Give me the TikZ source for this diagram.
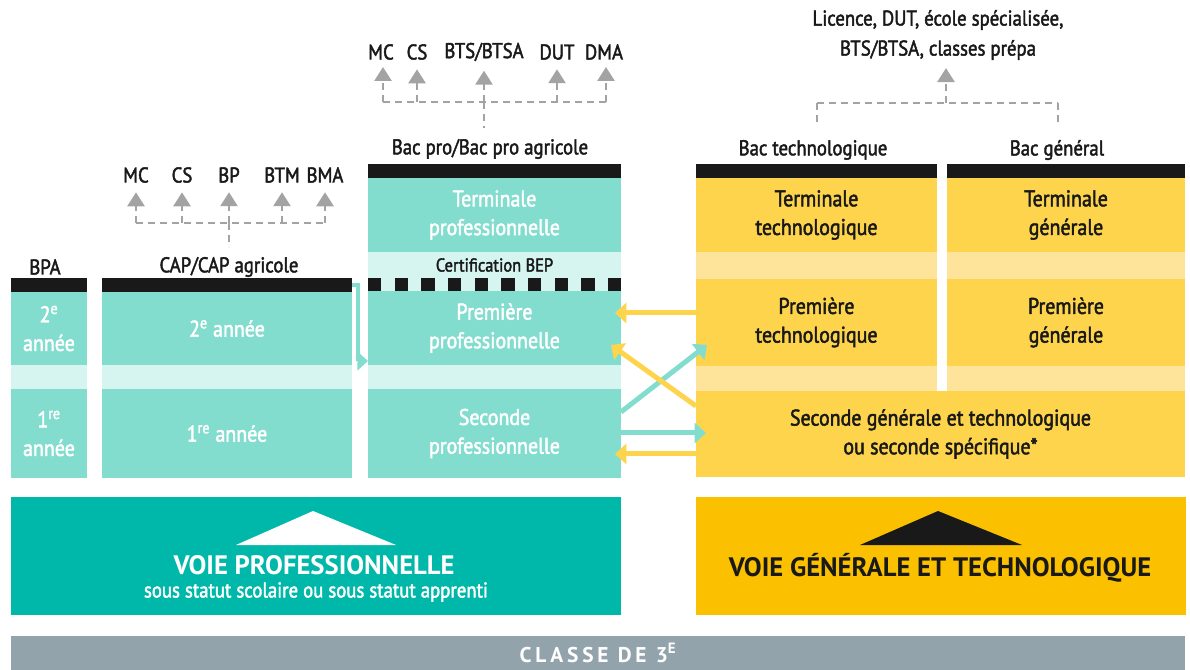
\documentclass[tikz,border=0pt]{standalone}
\usepackage{fontspec}
\setmainfont{PT Sans}[FakeStretch=0.88, FakeBold=2]
\newfontfamily\widefont{PT Sans}
\newfontfamily\spacedfont{PT Sans}[LetterSpace=18]
\usetikzlibrary{arrows.meta}
\definecolor{tealA}{HTML}{83DDCE}
\definecolor{tealL}{HTML}{D6F5F1}
\definecolor{tealB}{HTML}{00B8A9}
\definecolor{yelA}{HTML}{FDD44C}
\definecolor{yelL}{HTML}{FDE49A}
\definecolor{yelB}{HTML}{FBC100}
\definecolor{ink}{HTML}{181918}
\definecolor{grayB}{HTML}{93A3AB}
\definecolor{dashgray}{HTML}{A3A3A3}
\newcommand\fblk{\fontsize{17}{21.5}\selectfont}
\newcommand\flab{\fontsize{16}{22.5}\selectfont}
\begin{document}
\begin{tikzpicture}[x=0.75pt,y=-0.75pt,
  box/.style 2 args={minimum width=#1*0.75pt, minimum height=#2*0.75pt, inner sep=0pt, outer sep=0pt, anchor=north west, align=center, draw=none},
  bar/.style={fill=ink},
  tblk/.style={fill=tealA, text=white, font=\fblk},
  tband/.style={fill=tealL},
  yblk/.style={fill=yelA, text=ink, font=\fblk},
  yband/.style={fill=yelL},
  lab/.style={text=ink, font=\flab, inner sep=0pt, align=center},
  dline/.style={draw=dashgray, line width=2pt, dash pattern=on 5.25pt off 3.75pt},
  dtip/.style={dline, -{Triangle[width=12.75pt, length=10.5pt]}},
  yarr/.style={draw=yelA, line width=3.75pt, -{Triangle[width=15pt, length=8.5pt]}},
  tarr/.style={draw=tealA, line width=3.75pt, -{Triangle[width=15pt, length=8.5pt]}},
  sq/.style={fill=ink}
]
\useasboundingbox (0,0) rectangle (1190,670);

% ---------- BPA ----------
\node[box={76}{14}, bar] (bpaBar) at (11,278) {};
\node[box={76}{73}, tblk] (bpa2) at (11,292) {2\textsuperscript{e}\\année};
\node[box={76}{24}, tband] (bpaBand) at (11,365) {};
\node[box={76}{89}, tblk] (bpa1) at (11,389) {1\textsuperscript{re}\\année};
\node[lab] (bpaLab) at (45,267) {BPA};

% ---------- CAP ----------
\node[box={250}{14}, bar] (capBar) at (102,278) {};
\node[box={250}{73}, tblk] (cap2) at (102,292) {2\textsuperscript{e} année};
\node[box={250}{24}, tband] (capBand) at (102,365) {};
\node[box={250}{89}, tblk] (cap1) at (102,389) {1\textsuperscript{re} année};
\node[lab] (capLab) at (229,267) {CAP/CAP agricole};

% CAP outcomes
\node[lab] (cMC) at (136,175) {MC};
\node[lab] (cCS) at (182,175) {CS};
\node[lab] (cBP) at (229,175) {BP};
\node[lab] (cBTM) at (282,175) {BTM};
\node[lab] (cBMA) at (325,175) {BMA};
\coordinate (cL) at (136,223);
\coordinate (cR) at (325,223);
\coordinate (cT) at (229,223);
\coordinate (cTb) at (229,247);
\draw[dline] (cL) -- (cR);
\draw[dline] (cT) -- (cTb);
\foreach \n in {cMC,cCS,cBP,cBTM,cBMA}
  \draw[dtip] (\n |- cL) -- ([yshift=-7pt]\n.south);

% ---------- Bac pro ----------
\node[box={253}{14}, bar] (proBar) at (368,164) {};
\node[box={253}{74}, tblk] (term) at (368,178) {Terminale\\professionnelle};
\node[box={253}{26}, tband, text=ink, font=\fontsize{14}{16}\selectfont] (cert) at (368,252) {Certification BEP};
\node[box={253}{13}, tband] (sqRow) at (368,278) {};
\foreach \k in {0,...,9}
  \fill[sq] (368+\k*26.67,278) rectangle ++(13.3,13);
\node[box={253}{74}, tblk] (prem) at (368,291) {Première\\professionnelle};
\node[box={253}{24}, tband] (proBand) at (368,365) {};
\node[box={253}{89}, tblk] (sec) at (368,389) {Seconde\\professionnelle};
\node[lab] (proLab) at (490,149) {Bac pro/Bac pro agricole};

% Bac pro outcomes
\node[lab] (pMC) at (381,52) {MC};
\node[lab] (pCS) at (417,52) {CS};
\node[lab] (pBTS) at (484,52) {BTS/BTSA};
\node[lab] (pDUT) at (557,52) {DUT};
\node[lab] (pDMA) at (604,52) {DMA};
\coordinate (pL) at (383,102);
\coordinate (pR) at (606,102);
\coordinate (pT) at (484,102);
\coordinate (pTb) at (484,128);
\draw[dline] (pL) -- (pR);
\draw[dline] (pT) -- (pTb);
\draw[dtip] (pL) -- (383,67);
\draw[dtip] (pCS |- pL) -- ([yshift=-7pt]pCS.south);
\draw[dtip] (pBTS |- pL) -- ([yshift=-7pt]pBTS.south);
\draw[dtip] (pDUT |- pL) -- ([yshift=-7pt]pDUT.south);
\draw[dtip] (pR) -- (606,67);

% CAP -> Premiere pro
\coordinate (k1) at (358,285);
\coordinate (k2) at (358,361);
\draw[draw=tealA, line width=3pt, -{Triangle[width=14pt, length=8pt]}] (capBar.east |- k1) -- (k1) -- (k2) -- (prem.west |- k2);

% ---------- Voie generale ----------
\node[box={241}{14}, bar] (techBar) at (696,164) {};
\node[box={241}{74}, yblk] (termT) at (696,178) {Terminale\\technologique};
\node[box={241}{27}, yband] (techBand1) at (696,252) {};
\node[box={241}{87}, yblk] (premT) at (696,279) {Première\\technologique};
\node[box={241}{25}, yband] (techBand2) at (696,366) {};
\node[lab] (techLab) at (813,150) {Bac technologique};

\node[box={238}{14}, bar] (genBar) at (947,164) {};
\node[box={238}{74}, yblk] (termG) at (947,178) {Terminale\\générale};
\node[box={238}{27}, yband] (genBand1) at (947,252) {};
\node[box={238}{87}, yblk] (premG) at (947,279) {Première\\générale};
\node[box={238}{25}, yband] (genBand2) at (947,366) {};
\node[lab] (genLab) at (1057,150) {Bac général};

\node[box={489}{86}, yblk] (secG) at (696,391) {Seconde générale et technologique\\ou seconde spécifique*};

% higher education
\node[lab] (sup) at (938,35) {Licence, DUT, école spécialisée,\\BTS/BTSA, classes prépa};
\coordinate (gL) at (817,103);
\coordinate (gR) at (1058,103);
\coordinate (gT) at (946,103);
\draw[dline] (gL) -- (gR);
\draw[dline] (gL) -- (817,124);
\draw[dline] (gR) -- (1058,124);
\draw[dtip] (gT) -- ([yshift=-6pt]sup.south -| gT);

% ---------- crossing arrows ----------
\coordinate (a1s) at (696,313); \coordinate (a1e) at (615,313);
\coordinate (a2s) at (696,406); \coordinate (a2e) at (611,345);
\coordinate (a3s) at (621,412); \coordinate (a3e) at (707,345);
\coordinate (a4s) at (621,433); \coordinate (a4e) at (706,433);
\coordinate (a5s) at (696,454); \coordinate (a5e) at (615,454);
\draw[tarr] (a3s) -- (a3e);
\draw[tarr] (a4s) -- (a4e);
\draw[yarr] (a1s) -- (a1e);
\draw[yarr] (a2s) -- (a2e);
\draw[yarr] (a5s) -- (a5e);

% ---------- banners ----------
\node[box={610}{118}, fill=tealB] (voiePro) at (11,497) {};
\fill[white] (313,511) -- (396,545) -- (236,545) -- cycle;
\node[text=white, font=\widefont\fontsize{20}{22}\bfseries\selectfont, inner sep=0pt] (vpT) at (314,565) {VOIE PROFESSIONNELLE};
\node[text=white, font=\fontsize{16}{18}\selectfont, inner sep=0pt] (vpS) at (316,592) {sous statut scolaire ou sous statut apprenti};

\node[box={490}{118}, fill=yelB] (voieGen) at (696,497) {};
\fill[ink] (938,511) -- (1022,545) -- (860,545) -- cycle;
\node[text=ink, font=\widefont\fontsize{20}{22}\bfseries\selectfont, inner sep=0pt] (vgT) at (940,568) {VOIE GÉNÉRALE ET TECHNOLOGIQUE};

\node[box={1174}{34}, fill=grayB, text=white, font=\spacedfont\fontsize{16}{18}\bfseries\selectfont] (troisieme) at (11,636) {CLASSE DE 3\textsuperscript{E}};
\end{tikzpicture}
\end{document}
